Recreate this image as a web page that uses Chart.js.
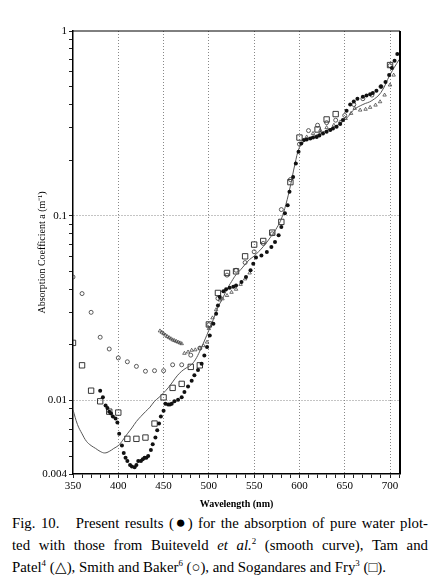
<!DOCTYPE html>
<html>
<head>
<meta charset="utf-8">
<script src="https://cdn.jsdelivr.net/npm/chart.js@4.4.1/dist/chart.umd.min.js"></script>
<style>
  body { margin: 0; background: #fff; }
  #wrap { position: relative; width: 447px; height: 512px; }
  #cap { position: absolute; left: 12px; top: 512px; width: 416px; font-family: "Liberation Serif", serif; font-size: 14.8px; line-height: 22px; color: #000; }
  .j { text-align: justify; text-align-last: justify; }
  .dot { font-size: 1.15em; line-height: 0; }
  sup { font-size: 0.6em; line-height: 0; }
</style>
</head>
<body>
<div id="wrap"><canvas id="chart"></canvas></div>
<div id="cap">
  <div class="j">Fig. 10.&nbsp;&nbsp; Present results (<span class="dot">●</span>) for the absorption of pure water plot-</div>
  <div class="j">ted with those from Buiteveld <i>et al.</i><sup>2</sup> (smooth curve), Tam and</div>
  <div>Patel<sup>4</sup> (△), Smith and Baker<sup>6</sup> (○), and Sogandares and Fry<sup>3</sup> (□).</div>
</div>
<script>
// tick labels
const xTickLabels = [350, 400, 450, 500, 550, 600, 650, 700];
const yTickLabels = [0.004, 0.01, 0.1, 1];

// present results (filled dots)
const presentWl = [380, 383, 386, 388, 390, 392, 394, 397, 399, 401, 404, 406, 408, 410, 413, 415, 418, 420, 422, 425, 427, 429, 431, 433,
  436, 438, 441, 443, 445, 447, 450, 452, 455, 457, 459, 462, 466, 470, 473, 477, 481, 484, 488, 492, 495, 498, 501, 505, 508, 510, 512,
  516, 519, 523, 527, 530, 536, 541, 546, 549, 552, 558, 564, 569, 573, 577, 580, 584, 587, 589, 593, 596, 599, 602, 605, 608, 612, 615,
  619, 622, 626, 630, 634, 637, 641, 645, 648, 652, 656, 660, 664, 670, 674, 678, 681, 685, 690, 695, 699, 702, 705, 708];
const presentAbs = [0.0113, 0.0104, 0.0094, 0.0091, 0.0087, 0.0085, 0.0082, 0.0080, 0.0076, 0.0066, 0.0057, 0.0052, 0.0049, 0.0047, 0.00448,
  0.00439, 0.00435, 0.00448, 0.0047, 0.0047, 0.0048, 0.0049, 0.0049, 0.0050, 0.0054, 0.0058, 0.0063, 0.0069, 0.0075, 0.0082, 0.0088, 0.0096,
  0.0095, 0.0095, 0.0096, 0.0099, 0.0101, 0.0104, 0.0111, 0.0119, 0.0128, 0.0137, 0.0146, 0.0158, 0.0175, 0.0195, 0.0225, 0.026, 0.0295,
  0.0327, 0.0363, 0.039, 0.040, 0.0408, 0.0413, 0.0419, 0.0438, 0.0466, 0.0507, 0.055, 0.0595, 0.061, 0.0637, 0.0677, 0.072, 0.0784, 0.087,
  0.103, 0.114, 0.135, 0.162, 0.192, 0.222, 0.246, 0.257, 0.259, 0.262, 0.265, 0.267, 0.272, 0.279, 0.285, 0.291, 0.297, 0.303, 0.314, 0.33,
  0.37, 0.40, 0.415, 0.43, 0.44, 0.447, 0.455, 0.462, 0.475, 0.50, 0.53, 0.577, 0.63, 0.69, 0.75];

// Buiteveld et al. (smooth curve)
const buiteveldWl = [350, 355, 360, 365, 370, 375, 380, 385, 390, 395, 400, 405, 410, 415, 420, 425, 430, 435, 440, 445, 450, 455, 460, 465,
  470, 475, 480, 485, 490, 495, 500, 505, 510, 515, 520, 525, 530, 535, 540, 545, 550, 555, 560, 565, 570, 575, 580, 585, 590, 595, 600,
  605, 610, 620, 630, 640, 650, 655, 660, 670, 680, 690, 700, 710];
const buiteveldAbs = [0.0089, 0.0074, 0.0066, 0.0060, 0.0057, 0.0055, 0.0053, 0.0052, 0.0053, 0.0055, 0.0057, 0.0061, 0.0066, 0.0071, 0.0077,
  0.0082, 0.0087, 0.0092, 0.0099, 0.0104, 0.0110, 0.0117, 0.0126, 0.0136, 0.0144, 0.0150, 0.0155, 0.0166, 0.0185, 0.0210, 0.0240, 0.0275,
  0.0320, 0.0355, 0.0400, 0.0440, 0.0480, 0.0510, 0.0545, 0.0580, 0.0605, 0.0640, 0.0680, 0.0730, 0.0790, 0.0860, 0.0960, 0.115, 0.145,
  0.190, 0.235, 0.252, 0.262, 0.275, 0.290, 0.305, 0.330, 0.350, 0.375, 0.400, 0.420, 0.465, 0.580, 0.700];

// Tam and Patel (triangles)
const tamWl = [446, 448, 450, 452, 454, 456, 458, 460, 462, 464, 466, 468, 470, 473, 477, 481, 485, 490, 494, 498, 500, 504, 508, 512,
  515, 520, 525, 530, 535, 540, 545, 608, 615, 623, 630, 638, 645, 651, 657, 661, 667, 673, 678, 684, 689, 694, 700, 704];
const tamAbs = [0.0238, 0.0234, 0.0230, 0.0226, 0.0222, 0.0219, 0.0216, 0.0213, 0.0211, 0.0209, 0.0207, 0.0205, 0.0203, 0.0180, 0.0183,
  0.0187, 0.0188, 0.0192, 0.0198, 0.0207, 0.0245, 0.028, 0.031, 0.035, 0.0355, 0.037, 0.0385, 0.040, 0.0425, 0.0455, 0.049, 0.267, 0.279,
  0.29, 0.30, 0.309, 0.322, 0.336, 0.358, 0.381, 0.373, 0.377, 0.386, 0.397, 0.414, 0.45, 0.51, 0.577];

// Smith and Baker (open circles)
const smithWl = [350, 360, 370, 380, 390, 400, 410, 420, 430, 440, 450, 460, 470, 480, 490, 500, 510, 520, 530, 540, 550, 560, 570, 580,
  590, 600, 610, 620, 630, 640, 650, 660, 670, 680, 690, 700];
const smithAbs = [0.0466, 0.0379, 0.030, 0.022, 0.019, 0.017, 0.0162, 0.0153, 0.0144, 0.0145, 0.0145, 0.0156, 0.0156, 0.0176, 0.0192,
  0.0257, 0.0357, 0.0477, 0.0507, 0.0558, 0.0638, 0.0708, 0.0799, 0.108, 0.157, 0.244, 0.289, 0.309, 0.319, 0.329, 0.349, 0.400, 0.430,
  0.450, 0.500, 0.650];

// Sogandares and Fry (open squares)
const fryWl = [350, 360, 370, 380, 390, 400, 410, 420, 430, 440, 450, 460, 470, 480, 490, 500, 510, 520, 530, 540, 550, 560, 570, 580,
  590, 600, 620, 630, 640, 700];
const fryAbs = [0.0205, 0.0155, 0.0113, 0.0099, 0.0087, 0.0086, 0.0062, 0.0062, 0.0063, 0.0075, 0.0104, 0.0117, 0.0123, 0.0152, 0.0155,
  0.0258, 0.0382, 0.049, 0.050, 0.0603, 0.0698, 0.073, 0.081, 0.0926, 0.152, 0.265, 0.293, 0.332, 0.355, 0.654];

const pts = (xs, ys) => xs.map((x, i) => ({ x: x, y: ys[i] }));
const isLabel = v => yTickLabels.some(t => Math.abs(v - t) / t < 1e-6);
const serif = '"Liberation Serif", "Times New Roman", serif';

// box round the plot (top and right sides)
const framePlugin = {
  id: 'frame',
  afterDraw(chart) {
    const { ctx, chartArea: a } = chart;
    ctx.save();
    ctx.strokeStyle = '#000';
    ctx.lineWidth = 1;
    ctx.beginPath();
    ctx.moveTo(a.left, a.top);
    ctx.lineTo(a.right, a.top);
    ctx.stroke();
    ctx.lineWidth = 2;
    ctx.beginPath();
    ctx.moveTo(a.right, a.top);
    ctx.lineTo(a.right, a.bottom);
    ctx.stroke();
    ctx.restore();
  }
};

new Chart(document.getElementById('chart'), {
  type: 'scatter',
  data: {
    datasets: [{
      label: 'Present results',
      data: pts(presentWl, presentAbs),
      pointRadius: 2,
      backgroundColor: '#111',
      borderWidth: 0,
      order: 0
    }, {
      label: 'Buiteveld et al.',
      data: pts(buiteveldWl, buiteveldAbs),
      showLine: true,
      tension: 0.4,
      pointRadius: 0,
      borderColor: '#555',
      borderWidth: 1,
      order: 1
    }, {
      label: 'Tam and Patel',
      data: pts(tamWl, tamAbs),
      pointStyle: 'triangle',
      pointRadius: 2,
      backgroundColor: 'rgba(0,0,0,0)',
      borderColor: '#333',
      borderWidth: 0.7,
      order: 2
    }, {
      label: 'Smith and Baker',
      data: pts(smithWl, smithAbs),
      pointStyle: 'circle',
      pointRadius: 2,
      backgroundColor: 'rgba(0,0,0,0)',
      borderColor: '#333',
      borderWidth: 0.8,
      order: 3
    }, {
      label: 'Sogandares and Fry',
      data: pts(fryWl, fryAbs),
      pointStyle: 'rect',
      pointRadius: 3.8,
      backgroundColor: 'rgba(0,0,0,0)',
      borderColor: '#222',
      borderWidth: 0.9,
      order: 4
    }]
  },
  options: {
    responsive: true,
    maintainAspectRatio: false,
    animation: false,
    layout: { padding: { top: 31, right: 47, bottom: 0, left: 0 } },
    plugins: { legend: { display: false }, tooltip: { enabled: false } },
    scales: {
      x: {
        type: 'linear',
        min: 350,
        max: 711,
        afterBuildTicks: s => {
          const t = [];
          for (let v = 350; v <= 710; v += 10) t.push({ value: v });
          s.ticks = t;
        },
        afterFit: s => { s.height = 38; },
        ticks: {
          autoSkip: false,
          maxRotation: 0,
          padding: 2,
          color: '#000',
          font: { family: serif, size: 11 },
          callback: v => xTickLabels.includes(v) ? String(v) : ''
        },
        grid: {
          color: c => (c.tick && c.tick.value % 50 === 0 && c.tick.value > 350) ? '#888' : 'rgba(0,0,0,0)',
          tickColor: '#222',
          tickLength: 4,
          lineWidth: 1
        },
        border: { color: '#000', width: 1.5, dash: [1, 2] },
        title: {
          display: true,
          text: 'Wavelength (nm)',
          color: '#000',
          font: { family: serif, size: 10, weight: 'bold' },
          padding: { top: 0, bottom: 2 }
        }
      },
      y: {
        type: 'logarithmic',
        min: 0.004,
        max: 1,
        afterBuildTicks: s => {
          const t = [];
          [4, 5, 6, 7, 8, 9].forEach(m => t.push({ value: m * 0.001 }));
          [1, 2, 3, 4, 5, 6, 7, 8, 9].forEach(m => t.push({ value: m * 0.01 }));
          [1, 2, 3, 4, 5, 6, 7, 8, 9].forEach(m => t.push({ value: m * 0.1 }));
          t.push({ value: 1 });
          s.ticks = t;
        },
        afterFit: s => { s.width = 73; },
        ticks: {
          autoSkip: false,
          padding: 2,
          color: '#000',
          font: { family: serif, size: 11 },
          callback: v => isLabel(v) ? String(+v.toPrecision(3)) : ''
        },
        grid: {
          color: c => (c.tick && (Math.abs(c.tick.value - 0.01) < 1e-9 || Math.abs(c.tick.value - 0.1) < 1e-9)) ? '#888' : 'rgba(0,0,0,0)',
          tickColor: '#222',
          tickLength: 4,
          lineWidth: 1
        },
        border: { color: '#000', width: 1.5, dash: [1, 2] },
        title: {
          display: true,
          text: 'Absorption Coefficient a (m\u207B\u00B9)',
          color: '#000',
          font: { family: serif, size: 10 },
          padding: { top: 36, bottom: 0 }
        }
      }
    }
  },
  plugins: [framePlugin]
});
</script>
</body>
</html>
